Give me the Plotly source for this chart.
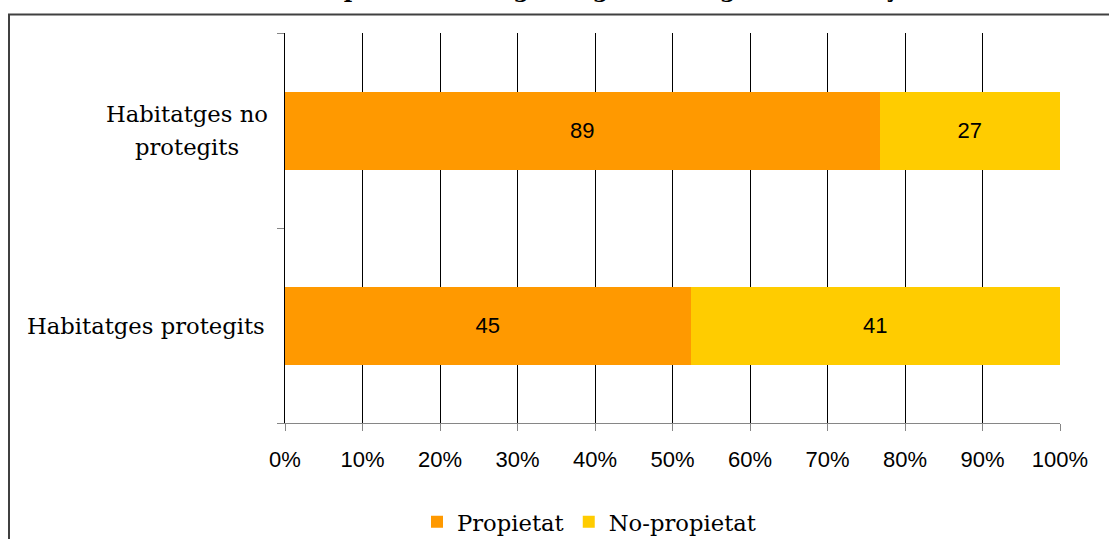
import plotly.graph_objects as go

# Data
categories = ["Habitatges protegits", "Habitatges no protegits"]
label_lines = {
    "Habitatges protegits": ["Habitatges protegits"],
    "Habitatges no protegits": ["Habitatges no", "protegits"],
}
propietat = [45, 89]
no_propietat = [41, 27]
series_names = ["Propietat", "No-propietat"]
x_ticks = list(range(0, 101, 10))
x_tick_labels = [f"{t}%" for t in x_ticks]
title_text = "Tipus d'habitatges segons el règim de tinença"

# Canvas and plot-area geometry (pixels)
W, H = 1109, 539
L, R, T, B = 285, 49, 33, 116
pw = W - L - R
ph = H - T - B


def px(x):
    return (x - L) / pw


def py(y):
    return (H - B - y) / ph


SERIF = "DejaVu Serif"
SANS = "Liberation Sans, Arial, sans-serif"
SERIF_SIZE = 22.7
colors = ["#FF9900", "#FFCC00"]

fig = go.Figure()
for name, vals, col in zip(series_names, [propietat, no_propietat], colors):
    fig.add_trace(go.Bar(
        y=categories, x=vals, name=name, orientation="h",
        marker=dict(color=col, line=dict(width=0)),
        text=[str(v) for v in vals], textposition="inside",
        insidetextanchor="middle", textangle=0,
        textfont=dict(family=SANS, size=22, color="#000000"),
        hoverinfo="skip",
    ))

annotations = []
for cat in categories:
    lines = label_lines[cat]
    if len(lines) == 1:
        annotations.append(dict(
            x=px(267), xref="paper", y=cat, yref="y", text=lines[0],
            xanchor="right", yanchor="middle", showarrow=False,
            font=dict(family=SERIF, size=SERIF_SIZE, color="#000000")))
    else:
        n = len(lines)
        for i, line in enumerate(lines):
            annotations.append(dict(
                x=px(187), xref="paper", y=cat, yref="y", text=line,
                xanchor="center", yanchor="middle", showarrow=False,
                yshift=(n - 1) * 16.5 - i * 33,
                font=dict(family=SERIF, size=SERIF_SIZE, color="#000000")))

# Chart title sits above the frame, only its lowest strokes reach the page
annotations.append(dict(
    x=px(615), xref="paper", y=py(-11), yref="paper", text=f"<b>{title_text}</b>",
    xanchor="center", yanchor="middle", showarrow=False,
    font=dict(family=SERIF, size=23, color="#000000")))

fig.update_layout(
    width=W, height=H,
    margin=dict(l=L, r=R, t=T, b=B, pad=0, autoexpand=False),
    paper_bgcolor="#FFFFFF", plot_bgcolor="#FFFFFF",
    barmode="stack", barnorm="percent", bargap=0.6,
    showlegend=True,
    legend=dict(orientation="h", x=px(589), xanchor="center",
                y=py(522), yanchor="middle",
                font=dict(family=SERIF, size=SERIF_SIZE, color="#000000"),
                itemwidth=30, traceorder="normal"),
    annotations=annotations,
    shapes=[dict(type="rect", xref="paper", yref="paper",
                 x0=px(9), x1=px(1125), y0=py(560), y1=py(14.5),
                 line=dict(color="#404040", width=2), layer="above")],
    xaxis=dict(range=[0, 100], tickvals=x_ticks, ticktext=x_tick_labels,
               showgrid=True, gridcolor="#000000", gridwidth=1,
               showline=True, linecolor="#868686", linewidth=1,
               ticks="outside", ticklen=7, tickcolor="#868686",
               ticklabelstandoff=10,
               tickfont=dict(family=SANS, size=22, color="#000000"),
               zeroline=False, fixedrange=True),
    yaxis=dict(showticklabels=False, showgrid=False,
               showline=True, linecolor="#000000", linewidth=1,
               ticks="outside", ticklen=7, tickcolor="#868686",
               tickson="boundaries", zeroline=False, fixedrange=True),
)

fig.write_html("out.html")
